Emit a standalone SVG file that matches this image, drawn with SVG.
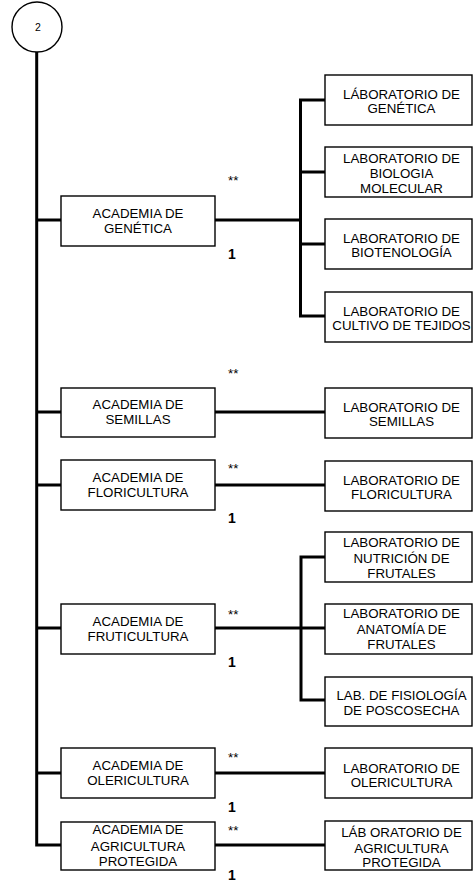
<svg xmlns="http://www.w3.org/2000/svg" width="473" height="883" viewBox="0 0 473 883">
<style>
.box{fill:#fff;stroke:#000;stroke-width:1.4}
.ln{fill:none;stroke:#000;stroke-width:3;stroke-linejoin:miter}
.t{font-family:"Liberation Sans",Arial,sans-serif;font-size:13.3px;fill:#000;text-anchor:middle}
.lt{font-family:"Liberation Sans",Arial,sans-serif;font-size:13.3px;fill:#000;text-anchor:middle}
.ast{font-family:"Liberation Sans",Arial,sans-serif;font-size:13.3px;fill:#000}
.one{font-family:"Liberation Sans",Arial,sans-serif;font-size:14px;font-weight:bold;fill:#000}
</style>
<rect width="473" height="883" fill="#fff"/>
<g id="connectors">
<path class="ln" d="M36.7 52 V845 H61"/>
<path class="ln" d="M36.7 220 H61 M36.7 412 H61 M36.7 485 H61 M36.7 628 H61 M36.7 773 H61"/>
<path class="ln" d="M215 220 H300.5 M300.5 100 V316 M299 100 H325 M299 172 H325 M299 244 H325 M299 316 H325"/>
<path class="ln" d="M215 412 H325"/>
<path class="ln" d="M215 485 H325"/>
<path class="ln" d="M215 628 H325 M301 555.5 V701.5 M299.5 557 H325 M299.5 700 H325"/>
<path class="ln" d="M215 773 H325"/>
<path class="ln" d="M215 845 H325"/>
</g>
<g id="n-circle">
<circle cx="37" cy="27" r="25" fill="#fff" stroke="#000" stroke-width="1.4"/>
<text x="38" y="30.8" style="font-family:'Liberation Sans',Arial,sans-serif;font-size:10.5px;text-anchor:middle">2</text>
</g>
<g id="n-ac-genetica">
<rect class="box" x="61" y="196" width="154" height="50"/>
<text class="t" x="138" y="218.3">ACADEMIA DE</text>
<text class="t" x="138" y="232.5">GENÉTICA</text>
</g>
<g id="n-ac-semillas">
<rect class="box" x="61" y="388" width="154" height="49"/>
<text class="t" x="138" y="409">ACADEMIA DE</text>
<text class="t" x="138" y="424">SEMILLAS</text>
</g>
<g id="n-ac-floricultura">
<rect class="box" x="61" y="460" width="154" height="50"/>
<text class="t" x="138" y="482">ACADEMIA DE</text>
<text class="t" x="138" y="496.5">FLORICULTURA</text>
</g>
<g id="n-ac-fruticultura">
<rect class="box" x="61" y="604" width="154" height="50"/>
<text class="t" x="138" y="626">ACADEMIA DE</text>
<text class="t" x="138" y="640.5">FRUTICULTURA</text>
</g>
<g id="n-ac-olericultura">
<rect class="box" x="61" y="748" width="154" height="50"/>
<text class="t" x="138" y="770">ACADEMIA DE</text>
<text class="t" x="138" y="784.5">OLERICULTURA</text>
</g>
<g id="n-ac-agricultura">
<rect class="box" x="61" y="822" width="154" height="48"/>
<text class="t" x="138" y="834.3">ACADEMIA DE</text>
<text class="t" x="138" y="850.5">AGRICULTURA</text>
<text class="t" x="138" y="866">PROTEGIDA</text>
</g>
<g id="n-lab-genetica">
<rect class="box" x="325" y="75" width="147" height="50"/>
<text class="lt" x="401.5" y="99">LÁBORATORIO DE</text>
<text class="lt" x="401.5" y="113.3">GENÉTICA</text>
</g>
<g id="n-lab-biologia">
<rect class="box" x="325" y="147" width="147" height="50"/>
<text class="lt" x="401.5" y="163.3">LABORATORIO DE</text>
<text class="lt" x="401.5" y="178.3">BIOLOGIA</text>
<text class="lt" x="401.5" y="192.7">MOLECULAR</text>
</g>
<g id="n-lab-biotenologia">
<rect class="box" x="325" y="219" width="147" height="50"/>
<text class="lt" x="401.5" y="242.7">LABORATORIO DE</text>
<text class="lt" x="401.5" y="257.3">BIOTENOLOGÍA</text>
</g>
<g id="n-lab-cultivo">
<rect class="box" x="325" y="292" width="147" height="50"/>
<text class="lt" x="401.5" y="315.5">LABORATORIO DE</text>
<text class="lt" x="401.5" y="330">CULTIVO DE TEJIDOS</text>
</g>
<g id="n-lab-semillas">
<rect class="box" x="325" y="388" width="147" height="50"/>
<text class="lt" x="401.5" y="411.5">LABORATORIO DE</text>
<text class="lt" x="401.5" y="426">SEMILLAS</text>
</g>
<g id="n-lab-floricultura">
<rect class="box" x="325" y="461" width="147" height="50"/>
<text class="lt" x="401.5" y="484.5">LABORATORIO DE</text>
<text class="lt" x="401.5" y="499">FLORICULTURA</text>
</g>
<g id="n-lab-nutricion">
<rect class="box" x="325" y="532" width="147" height="50"/>
<text class="lt" x="401.5" y="546.7">LABORATORIO DE</text>
<text class="lt" x="401.5" y="563">NUTRICIÓN DE</text>
<text class="lt" x="401.5" y="578.3">FRUTALES</text>
</g>
<g id="n-lab-anatomia">
<rect class="box" x="325" y="604" width="147" height="50"/>
<text class="lt" x="401.5" y="618">LABORATORIO DE</text>
<text class="lt" x="401.5" y="634">ANATOMÍA DE</text>
<text class="lt" x="401.5" y="649.3">FRUTALES</text>
</g>
<g id="n-lab-fisiologia">
<rect class="box" x="325" y="677" width="147" height="49"/>
<text class="lt" x="401.5" y="700">LAB. DE FISIOLOGÍA</text>
<text class="lt" x="401.5" y="715">DE POSCOSECHA</text>
</g>
<g id="n-lab-olericultura">
<rect class="box" x="325" y="748" width="147" height="50"/>
<text class="lt" x="401.5" y="772.5">LABORATORIO DE</text>
<text class="lt" x="401.5" y="786.7">OLERICULTURA</text>
</g>
<g id="n-lab-agricultura">
<rect class="box" x="325" y="821" width="147" height="49"/>
<text class="lt" x="401.5" y="837.3">LÁB ORATORIO DE</text>
<text class="lt" x="401.5" y="853">AGRICULTURA</text>
<text class="lt" x="401.5" y="867.3">PROTEGIDA</text>
</g>
<g id="labels">
<text class="ast" x="228" y="184.5">**</text>
<text class="one" x="228" y="259">1</text>
<text class="ast" x="228" y="377.5">**</text>
<text class="ast" x="228" y="472.5">**</text>
<text class="one" x="228" y="523">1</text>
<text class="ast" x="228" y="618.5">**</text>
<text class="one" x="228" y="667">1</text>
<text class="ast" x="228" y="761.5">**</text>
<text class="one" x="228" y="812">1</text>
<text class="ast" x="228" y="834.5">**</text>
<text class="one" x="228" y="880">1</text>
</g>
</svg>
